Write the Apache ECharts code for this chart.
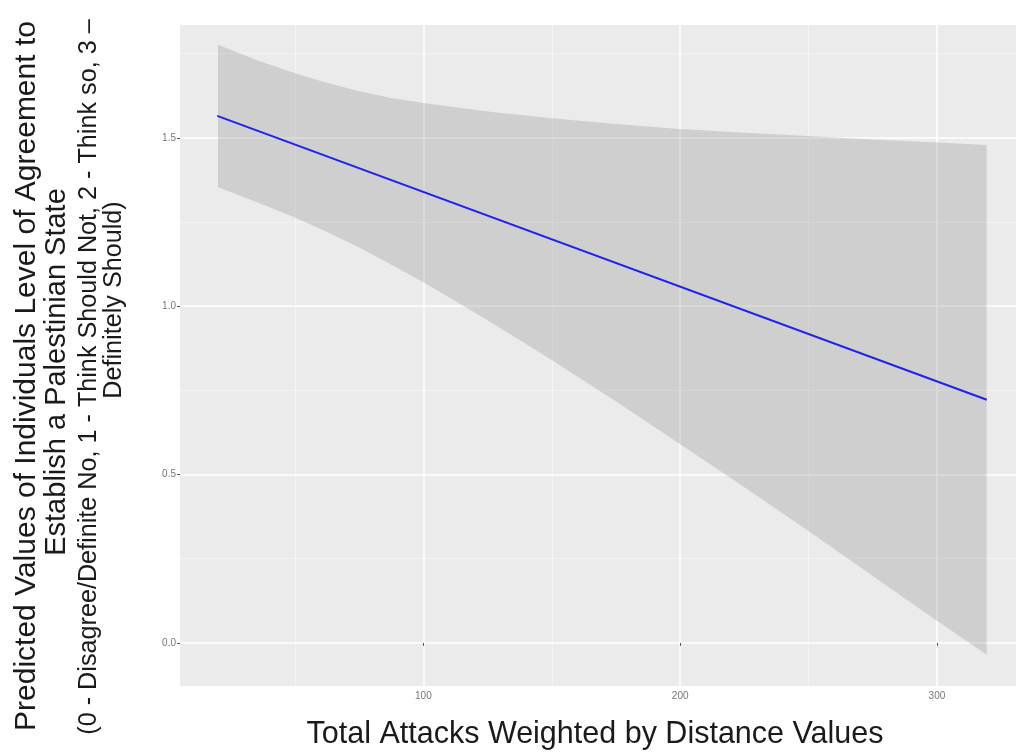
<!DOCTYPE html>
<html>
<head>
<meta charset="utf-8">
<script src="https://cdn.jsdelivr.net/npm/echarts@6/dist/echarts.min.js"></script>
<style>
  html, body { margin: 0; padding: 0; background: #fff; }
  #main { width: 1016px; height: 753px; }
</style>
</head>
<body>
<div id="main"></div>
<script>
// fitted line (predicted values) and its confidence band
const attacks = [20, 35, 50, 62, 75, 87, 100, 125, 150, 175, 200, 225, 250, 275, 300, 319.4];
const upperCI = [1.776, 1.731, 1.692, 1.664, 1.638, 1.619, 1.603, 1.578, 1.558, 1.541, 1.526, 1.515, 1.505, 1.495, 1.486, 1.479];
const lowerCI = [1.353, 1.309, 1.263, 1.222, 1.174, 1.125, 1.071, 0.958, 0.840, 0.717, 0.590, 0.462, 0.332, 0.199, 0.066, -0.035];
const fitX = [19.7, 319.4];
const fitY = [1.565, 0.722];

// axis ticks
const xMajor = [100, 200, 300];
const xMinor = [50, 150, 250];
const yMajor = [0, 0.5, 1, 1.5];
const yMinor = [0.25, 0.75, 1.25, 1.75];

const yTitle = [
  'Predicted Values of Individuals Level of Agreement to',
  'Establish a Palestinian State',
  '(0 - Disagree/Definite No, 1 - Think Should Not, 2 - Think so, 3 \u2013',
  'Definitely Should)'
];
const xTitle = 'Total Attacks Weighted by Distance Values';

const FONT = '"Liberation Sans", Arial, Helvetica, sans-serif';

const chart = echarts.init(document.getElementById('main'));

const xBase = { type: 'value', min: 5.2, max: 330.8, position: 'bottom', axisLine: { show: false } };
const yBase = { type: 'value', min: -0.128, max: 1.835, position: 'left', axisLine: { show: false } };

// rotated y title line
function vText(txt, x, y, size) {
  return {
    type: 'text', x: x, y: y, rotation: Math.PI / 2,
    style: { text: txt, font: size + 'px ' + FONT, fill: '#1a1a1a', align: 'center', verticalAlign: 'middle' }
  };
}

chart.setOption({
  animation: false,
  grid: {
    left: 180, right: 0, top: 25, bottom: 67,
    show: true, backgroundColor: '#EBEBEB', borderWidth: 0,
    containLabel: false, outerBoundsMode: 'none'
  },
  xAxis: [
    Object.assign({}, xBase, {
      axisTick: { show: true, length: 3, customValues: xMajor, lineStyle: { color: '#555', width: 1 } },
      axisLabel: { customValues: xMajor, fontSize: 10, color: '#777', margin: 5, fontFamily: FONT },
      splitLine: { show: true, lineStyle: { color: '#FFFFFF', width: 1.5 } }
    }),
    Object.assign({}, xBase, {
      axisTick: { show: false, customValues: xMinor },
      axisLabel: { show: false, customValues: xMinor },
      splitLine: { show: true, lineStyle: { color: '#F6F6F6', width: 0.8 } }
    })
  ],
  yAxis: [
    Object.assign({}, yBase, {
      axisTick: { show: true, length: 3, customValues: yMajor, lineStyle: { color: '#555', width: 1 } },
      axisLabel: {
        customValues: yMajor, fontSize: 10, color: '#777', margin: 4, fontFamily: FONT,
        formatter: v => Number(v).toFixed(1)
      },
      splitLine: { show: true, lineStyle: { color: '#FFFFFF', width: 1.5 } }
    }),
    Object.assign({}, yBase, {
      axisTick: { show: false, customValues: yMinor },
      axisLabel: { show: false, customValues: yMinor },
      splitLine: { show: true, lineStyle: { color: '#F6F6F6', width: 0.8 } }
    })
  ],
  series: [
    {
      // confidence band: upper edge then lower edge backwards
      type: 'custom',
      xAxisIndex: 0,
      yAxisIndex: 0,
      silent: true,
      data: [[attacks[0], upperCI[0]]],
      renderItem: (params, api) => {
        const pts = [];
        attacks.forEach((x, i) => pts.push(api.coord([x, upperCI[i]])));
        for (let i = attacks.length - 1; i >= 0; i--) pts.push(api.coord([attacks[i], lowerCI[i]]));
        return {
          type: 'polygon',
          shape: { points: pts },
          style: { fill: 'rgba(153,153,153,0.33)', stroke: null }
        };
      },
      z: 2
    },
    {
      type: 'line',
      xAxisIndex: 0,
      yAxisIndex: 0,
      data: fitX.map((x, i) => [x, fitY[i]]),
      showSymbol: false,
      lineStyle: { color: '#2020F0', width: 2 },
      silent: true,
      z: 3
    }
  ],
  graphic: [
    vText(yTitle[0], 27, 376, 30),
    vText(yTitle[1], 57, 372, 29),
    vText(yTitle[2], 89, 377, 25.2),
    vText(yTitle[3], 114, 300, 25.2),
    { type: 'text', x: 595, y: 735,
      style: { text: xTitle, font: '30.5px ' + FONT, fill: '#1a1a1a', align: 'center', verticalAlign: 'middle' } }
  ]
});
</script>
</body>
</html>
